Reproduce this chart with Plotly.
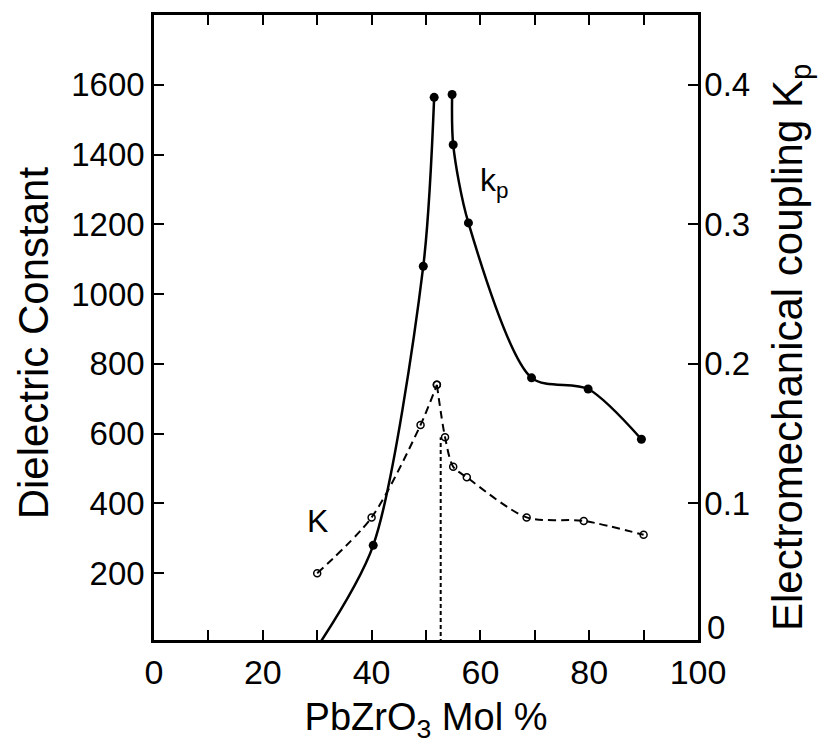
import plotly.graph_objects as go

# ---- data ----
# Dielectric constant K (left axis), dashed with open circles
K_x = [30, 40, 49, 52, 53.5, 55, 57.5, 68.5, 79, 90]
K_y = [200, 360, 625, 740, 590, 505, 475, 360, 350, 310]
K_PEAK = 3  # index of the cusp

# Electromechanical coupling kp (right axis), solid with filled circles
kp_left_x = [30.5, 40.3, 49.5, 51.5]
kp_left_y = [0.0, 0.070, 0.270, 0.391]
kp_right_x = [54.8, 55.0, 57.8, 69.4, 79.8, 89.6]
kp_right_y = [0.393, 0.357, 0.301, 0.190, 0.182, 0.146]

# morphotropic phase boundary marker line
MPB_x = 52.7
MPB_top = 590

x_ticks = [0, 20, 40, 60, 80, 100]
x_minor = [10, 30, 50, 70, 90]
left_ticks = [200, 400, 600, 800, 1000, 1200, 1400, 1600]
right_ticks = [0.1, 0.2, 0.3, 0.4]
right_tick_text = ["0.1", "0.2", "0.3", "0.4"]

FONT = "Liberation Sans, Arial, Helvetica, sans-serif"
LEFT_RANGE = [8.6, 1800]
SCALE = 4000.0  # left = right * SCALE

fig = go.Figure()

# K curve: two smooth branches meeting at the peak
fig.add_trace(go.Scatter(
    x=K_x[:K_PEAK + 1], y=K_y[:K_PEAK + 1], mode="lines+markers",
    line=dict(color="black", width=2, dash="8px,5px", shape="spline", smoothing=0.8),
    marker=dict(symbol="circle-open", size=7, color="black", line=dict(width=1.5)),
    showlegend=False))
fig.add_trace(go.Scatter(
    x=K_x[K_PEAK:], y=K_y[K_PEAK:], mode="lines+markers",
    line=dict(color="black", width=2, dash="8px,5px", shape="spline", smoothing=0.8),
    marker=dict(symbol="circle-open", size=7, color="black", line=dict(width=1.5)),
    showlegend=False))

# MPB vertical dashed line
fig.add_trace(go.Scatter(
    x=[MPB_x, MPB_x], y=[0, MPB_top], mode="lines",
    line=dict(color="black", width=2, dash="4px,3px"), showlegend=False))

# kp curve (right axis)
fig.add_trace(go.Scatter(
    x=kp_left_x, y=kp_left_y, yaxis="y2", mode="lines+markers",
    line=dict(color="black", width=2.5, shape="spline", smoothing=0.8),
    marker=dict(symbol="circle", size=9, color="black"),
    cliponaxis=False, showlegend=False))
fig.add_trace(go.Scatter(
    x=kp_right_x, y=kp_right_y, yaxis="y2", mode="lines+markers",
    line=dict(color="black", width=2.5, shape="spline", smoothing=0.8),
    marker=dict(symbol="circle", size=9, color="black"),
    showlegend=False))

fig.update_layout(
    width=826, height=753,
    margin=dict(l=154, r=128, t=13, b=113),
    paper_bgcolor="white", plot_bgcolor="white",
    font=dict(family=FONT, color="black", size=32),
    xaxis=dict(
        range=[0, 100], tickmode="array", tickvals=x_ticks,
        ticktext=[str(v) for v in x_ticks],
        ticks="inside", ticklen=10, tickwidth=2, tickcolor="black",
        minor=dict(tickvals=x_minor, ticks="inside", ticklen=10, tickwidth=2, tickcolor="black"),
        showline=True, linecolor="black", linewidth=2.5, mirror="ticks",
        showgrid=False, zeroline=False,
        tickfont=dict(size=34), ticklabelstandoff=0,
        title=dict(text="PbZrO<sub>3</sub> Mol %", font=dict(size=38), standoff=14),
    ),
    yaxis=dict(
        range=LEFT_RANGE, tickmode="array", tickvals=left_ticks,
        ticks="inside", ticklen=10, tickwidth=2, tickcolor="black",
        showline=True, linecolor="black", linewidth=2.5,
        showgrid=False, zeroline=False,
        tickfont=dict(size=33),
    ),
    yaxis2=dict(
        overlaying="y", side="right",
        range=[LEFT_RANGE[0] / SCALE, LEFT_RANGE[1] / SCALE],
        tickmode="array", tickvals=right_ticks, ticktext=right_tick_text,
        ticks="inside", ticklen=10, tickwidth=2, tickcolor="black",
        showline=True, linecolor="black", linewidth=2.5,
        showgrid=False, zeroline=False,
        tickfont=dict(size=33), ticklabelstandoff=-3,
    ),
    annotations=[
        dict(text="Dielectric Constant", x=-0.222, y=0.475, xref="paper", yref="paper",
             xanchor="center", yanchor="middle", textangle=-90,
             showarrow=False, font=dict(size=42)),
        dict(text="Electromechanical coupling K<sub>p</sub>", x=1.17, y=0.468,
             xref="paper", yref="paper", xanchor="center", yanchor="middle",
             textangle=-90, showarrow=False, font=dict(size=42)),
        dict(text="k<sub>p</sub>", x=62.5, y=1320, xref="x", yref="y",
             showarrow=False, font=dict(size=32)),
        dict(text="K", x=30, y=350, xref="x", yref="y",
             showarrow=False, font=dict(size=32)),
        dict(text="0", x=1, y=0.0114, xref="paper", yref="y2", xanchor="left",
             xshift=7, showarrow=False, font=dict(size=33)),
    ],
)

fig.write_html("out.html")
